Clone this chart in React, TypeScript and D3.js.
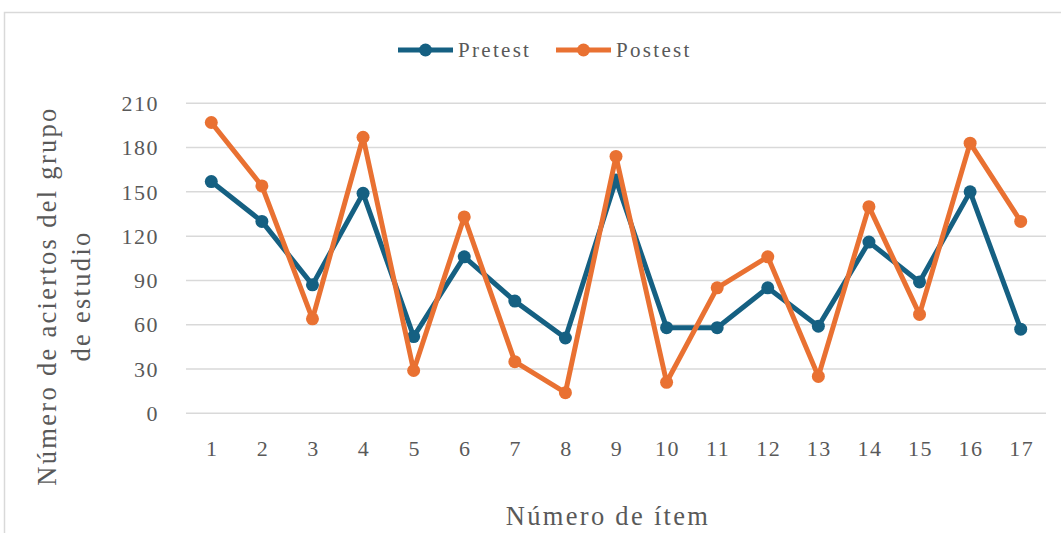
import React from "react";
import * as d3 from "d3";

const items = ["1","2","3","4","5","6","7","8","9","10","11","12","13","14","15","16","17"];
const pretest = [157,130,87,149,52,106,76,51,158,58,58,85,59,116,89,150,57];
const postest = [197,154,64,187,29,133,35,14,174,21,85,106,25,140,67,183,130];
const yTicks = [0,30,60,90,120,150,180,210];
const seriesNames = ["Pretest","Postest"];
const colors = ["#156082","#E97132"];

const W = 1061, H = 533;
const left = 186, right = 1046, top = 103.3, bottom = 413.3;
const fontStyle = { fontFamily: '"Liberation Serif", "DejaVu Serif", serif' };
const textColor = "#595959";

export default function App() {
  const x = d3.scaleBand<string>().domain(items).range([left, right]).padding(0);
  const y = d3.scaleLinear().domain([0, 210]).range([bottom, top]);
  const line = d3.line<number>().x((_, i) => (x(items[i]) as number) + x.bandwidth() / 2).y(d => y(d));
  const series = [pretest, postest];
  const legendX = [398, 556];
  return (
    <svg width={W} height={H} style={{ position: "absolute", left: 0, top: 0, background: "#fff" }}>
      <rect x={4.5} y={12.5} width={W + 10} height={H + 10} fill="#fff" stroke="#d9d9d9" strokeWidth={1.5} />
      {yTicks.map(t => (
        <g key={t}>
          <line x1={left} x2={right} y1={y(t)} y2={y(t)} stroke="#d9d9d9" strokeWidth={1.5} />
          <text x={159} y={y(t)} dy="0.35em" textAnchor="end" style={fontStyle} fontSize={22} letterSpacing={1.5} fill={textColor}>{t}</text>
        </g>
      ))}
      {items.map(c => (
        <text key={c} x={(x(c) as number) + x.bandwidth() / 2 + 1} y={456} textAnchor="middle" style={fontStyle} fontSize={22} letterSpacing={1.5} fill={textColor}>{c}</text>
      ))}
      {series.map((s, k) => (
        <g key={k}>
          <path d={line(s) || ""} fill="none" stroke={colors[k]} strokeWidth={5} strokeLinejoin="round" />
          {s.map((v, i) => (
            <circle key={i} cx={(x(items[i]) as number) + x.bandwidth() / 2} cy={y(v)} r={6.5} fill={colors[k]} />
          ))}
        </g>
      ))}
      {seriesNames.map((n, k) => (
        <g key={n}>
          <line x1={legendX[k]} x2={legendX[k] + 55} y1={50} y2={50} stroke={colors[k]} strokeWidth={5} />
          <circle cx={legendX[k] + 27.5} cy={50} r={6.5} fill={colors[k]} />
          <text x={legendX[k] + 60} y={50} dy="0.35em" style={fontStyle} fontSize={21} letterSpacing={2.3} fill={textColor}>{n}</text>
        </g>
      ))}
      <text transform="translate(56,296) rotate(-90)" textAnchor="middle" style={fontStyle} fontSize={26.5} letterSpacing={2.3} fill={textColor}>
        Número de aciertos del grupo
      </text>
      <text transform="translate(90,296) rotate(-90)" textAnchor="middle" style={fontStyle} fontSize={26.5} letterSpacing={2.3} fill={textColor}>
        de estudio
      </text>
      <text x={608} y={525} textAnchor="middle" style={fontStyle} fontSize={26.5} letterSpacing={2.3} fill={textColor}>Número de ítem</text>
    </svg>
  );
}
